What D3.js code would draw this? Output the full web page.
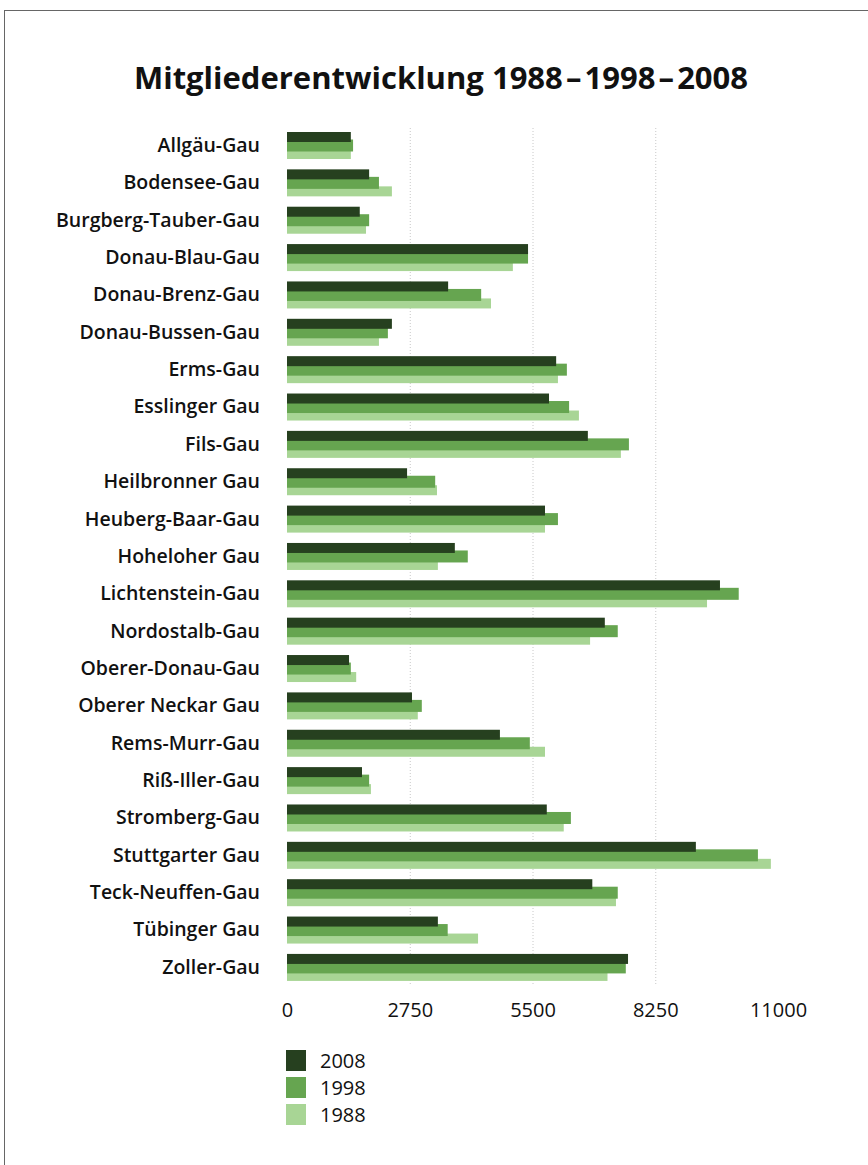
<!DOCTYPE html>
<html>
<head>
<meta charset="utf-8">
<script src="https://cdn.jsdelivr.net/npm/d3@7"></script>
<style>
  body { margin: 0; background: #fff; }
  text { font-family: "Open Sans", "Noto Sans", sans-serif; fill: #111; }
</style>
</head>
<body>
<script>
// values
var categories = ["Allgäu-Gau", "Bodensee-Gau", "Burgberg-Tauber-Gau", "Donau-Blau-Gau",
  "Donau-Brenz-Gau", "Donau-Bussen-Gau", "Erms-Gau", "Esslinger Gau", "Fils-Gau",
  "Heilbronner Gau", "Heuberg-Baar-Gau", "Hoheloher Gau", "Lichtenstein-Gau",
  "Nordostalb-Gau", "Oberer-Donau-Gau", "Oberer Neckar Gau", "Rems-Murr-Gau",
  "Riß-Iller-Gau", "Stromberg-Gau", "Stuttgarter Gau", "Teck-Neuffen-Gau",
  "Tübinger Gau", "Zoller-Gau"];

var values2008 = [1430, 1840, 1630, 5400, 3610, 2350, 6030, 5870, 6740, 2690, 5780, 3760,
  9700, 7120, 1390, 2800, 4770, 1680, 5820, 9160, 6840, 3380, 7640];
var values1998 = [1480, 2060, 1840, 5400, 4350, 2260, 6270, 6320, 7660, 3320, 6070, 4050,
  10120, 7410, 1430, 3020, 5440, 1840, 6360, 10550, 7410, 3600, 7590];
var values1988 = [1430, 2350, 1770, 5060, 4570, 2060, 6070, 6540, 7480, 3360, 5780, 3380,
  9410, 6790, 1550, 2930, 5780, 1880, 6200, 10840, 7370, 4280, 7180];

var seriesNames = ["2008", "1998", "1988"];
var tickValues = [0, 2750, 5500, 8250, 11000];
var title = "Mitgliederentwicklung 1988\u200a\u2013\u200a1998\u200a\u2013\u200a2008";

var width = 868, height = 1165;
var colors = { "2008": "#26401f", "1998": "#66a550", "1988": "#a8d595" };

var svg = d3.select("body").append("svg")
  .attr("width", width)
  .attr("height", height);

// frame
svg.append("rect")
  .attr("x", 4.5).attr("y", 10.5)
  .attr("width", width + 10).attr("height", height + 10)
  .attr("fill", "none")
  .attr("stroke", "#666")
  .attr("stroke-width", 1);

svg.append("text")
  .attr("x", 441).attr("y", 89)
  .attr("text-anchor", "middle")
  .style("font-size", "31px")
  .style("font-weight", "bold")
  .text(title);

var x = d3.scaleLinear().domain([0, 11000]).range([287, 778]);
var y = d3.scaleBand().domain(categories).range([132, 132 + 23 * 37.36]).padding(0);

// dotted grid
svg.append("g")
  .selectAll("line")
  .data(tickValues.slice(1, 4))
  .enter()
  .append("line")
  .attr("x1", function (d) { return x(d) + 0.5; })
  .attr("x2", function (d) { return x(d) + 0.5; })
  .attr("y1", 128)
  .attr("y2", 986)
  .attr("stroke", "#c8c8c8")
  .attr("stroke-width", 1)
  .attr("stroke-dasharray", "1,2");

// bars: drawn light first so darker ones sit on top
var layers = [
  { name: "1988", vals: values1988, off: 17, h: 10 },
  { name: "1998", vals: values1998, off: 7.5, h: 12 },
  { name: "2008", vals: values2008, off: 0, h: 10 }
];

layers.forEach(function (layer) {
  svg.append("g")
    .selectAll("rect")
    .data(categories)
    .enter()
    .append("rect")
    .attr("x", x(0))
    .attr("y", function (d) { return y(d) + layer.off; })
    .attr("width", function (d, i) { return x(layer.vals[i]) - x(0); })
    .attr("height", layer.h)
    .attr("fill", colors[layer.name]);
});

// category labels
var yAxis = d3.axisLeft(y).tickSize(0).tickPadding(0);
var ya = svg.append("g").attr("transform", "translate(260,-5)").call(yAxis);
ya.select(".domain").remove();
ya.selectAll("text")
  .style("font-size", "19.5px")
  .style("font-weight", "600")
  .attr("fill", "#111");

// value axis
var xAxis = d3.axisBottom(x).tickValues(tickValues).tickSize(0).tickPadding(0)
  .tickFormat(d3.format("d"));
var xa = svg.append("g").attr("transform", "translate(0,1003)").call(xAxis);
xa.select(".domain").remove();
xa.selectAll("text")
  .style("font-size", "20px")
  .attr("fill", "#111");

// legend
var legend = svg.append("g")
  .selectAll("g")
  .data(seriesNames)
  .enter()
  .append("g")
  .attr("transform", function (d, i) { return "translate(286," + (1050 + i * 27) + ")"; });

legend.append("rect")
  .attr("width", 20)
  .attr("height", 21)
  .attr("fill", function (d) { return colors[d]; });

legend.append("text")
  .attr("x", 34)
  .attr("y", 18)
  .style("font-size", "20px")
  .text(function (d) { return d; });
</script>
</body>
</html>
